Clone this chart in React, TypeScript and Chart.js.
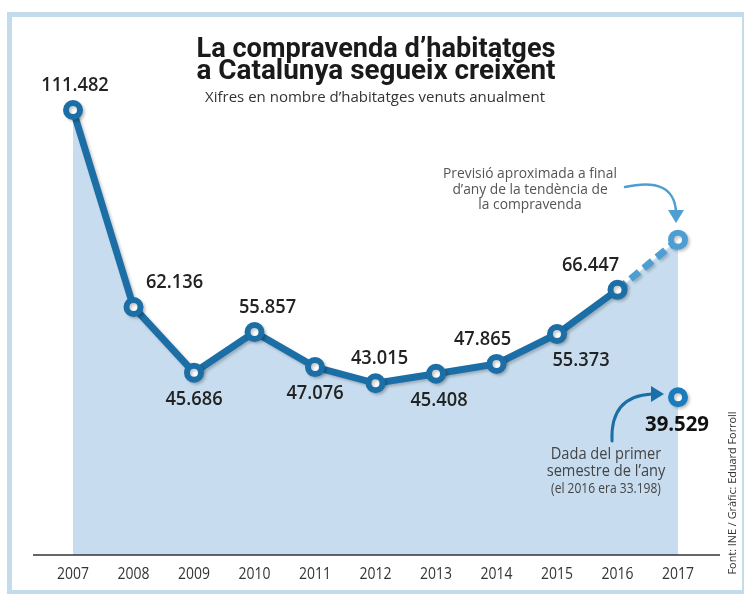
import React, { useEffect, useRef } from "react";
import { Chart, registerables } from "chart.js";

Chart.register(...registerables);

const years = ["2007", "2008", "2009", "2010", "2011", "2012", "2013", "2014", "2015", "2016", "2017"];
const sales = [111482, 62136, 45686, 55857, 47076, 43015, 45408, 47865, 55373, 66447, null];
const forecast = [null, null, null, null, null, null, null, null, null, 66447, 79000];
const firstSemester = [null, null, null, null, null, null, null, null, null, null, 39529];
// label placement for each value of `sales`: [dx, "above" | "below"]
const labelPlacement: [number, string][] = [
  [2, "above"], [41, "above"], [0, "below"], [13, "above"], [0, "below"], [4, "above"],
  [3, "below"], [-14, "above"], [24, "below"], [-27, "above"],
];

const titleLines = ["La compravenda d\u2019habitatges", "a Catalunya segueix creixent"];
const subtitle = "Xifres en nombre d\u2019habitatges venuts anualment";
const forecastNote = ["Previsió aproximada a final", "d\u2019any de la tendència de", "la compravenda"];
const semesterNote = ["Dada del primer", "semestre de l\u2019any", "(el 2016 era 33.198)"];
const sourceText = "Font: INE / Gràfic: Eduard Forroll";

const DARK = "#1b6ea6";
const LIGHT = "#4d9fd3";
const FILL = "#c7ddef";
const FRAME = "#c3dcec";

const fmt = (n: number) => String(n).replace(/\B(?=(\d{3})+(?!\d))/g, ".");

function txt(
  ctx: CanvasRenderingContext2D,
  s: string,
  x: number,
  y: number,
  font: string,
  color: string,
  opts: { align?: CanvasTextAlign; sx?: number; w?: number } = {}
) {
  ctx.save();
  ctx.font = font;
  ctx.fillStyle = color;
  ctx.textBaseline = "alphabetic";
  ctx.textAlign = opts.align || "center";
  let sc = opts.sx ?? 1;
  if (opts.w) sc = opts.w / ctx.measureText(s).width;
  ctx.translate(x, y);
  ctx.scale(sc, 1);
  ctx.fillText(s, 0, 0);
  ctx.restore();
}

const decorPlugin = {
  id: "decor",
  beforeDraw(chart: any) {
    const ctx = chart.ctx as CanvasRenderingContext2D;
    ctx.save();
    ctx.fillStyle = "#ffffff";
    ctx.fillRect(0, 0, chart.width, chart.height);
    ctx.fillStyle = FRAME;
    ctx.fillRect(7, 12, 737, 5); // top
    ctx.fillRect(7, 12, 5, 582); // left
    ctx.fillRect(742, 12, 2, 582); // right
    ctx.fillRect(7, 590, 737, 4); // bottom
    ctx.restore();
  },
  beforeDatasetDraw(chart: any, args: any) {
    const ctx = chart.ctx as CanvasRenderingContext2D;
    if (args.index === 1 || args.index === 2 || args.index === 3) {
      ctx.save();
      ctx.shadowColor = "rgba(0,0,0,0.22)";
      ctx.shadowBlur = 3;
      ctx.shadowOffsetX = 2;
      ctx.shadowOffsetY = 2;
    }
  },
  afterDatasetDraw(chart: any, args: any) {
    if (args.index === 1 || args.index === 2 || args.index === 3) {
      chart.ctx.restore();
    }
  },
  afterDraw(chart: any) {
    const ctx = chart.ctx as CanvasRenderingContext2D;
    const xs = chart.scales.x;
    const ys = chart.scales.y;
    const base = ys.getPixelForValue(0);

    // axis line
    ctx.save();
    ctx.strokeStyle = "#333";
    ctx.lineWidth = 1.5;
    ctx.beginPath();
    ctx.moveTo(33, base);
    ctx.lineTo(720, base);
    ctx.stroke();
    ctx.restore();

    // x labels
    years.forEach((y, i) => {
      txt(ctx, y, xs.getPixelForValue(i), base + 24, '17px "Open Sans"', "#333", { sx: 0.82 });
    });

    // titles
    txt(ctx, titleLines[0], 376, 57, 'bold 27px Roboto', "#1a1a1a", { w: 359 });
    txt(ctx, titleLines[1], 376, 79, 'bold 27px Roboto', "#1a1a1a", { w: 359 });
    txt(ctx, subtitle, 375, 102, '14px "Open Sans"', "#333", { w: 340 });

    // value labels
    labelPlacement.forEach(([dx, pos], i) => {
      const v = sales[i] as number;
      const px = xs.getPixelForValue(i) + dx;
      const py = ys.getPixelForValue(v);
      const by = pos === "above" ? py - 19 : py + 32;
      txt(ctx, fmt(v), px, by, '600 19px "Open Sans"', "#222", { sx: 0.96 });
    });
    const sv = firstSemester[10] as number;
    txt(ctx, fmt(sv), xs.getPixelForValue(10) - 1, ys.getPixelForValue(sv) + 34, 'bold 21px "Open Sans"', "#111", { sx: 0.97 });

    // forecast note
    forecastNote.forEach((l, i) => {
      txt(ctx, l, 530, 178 + i * 15.5, '15px "Open Sans"', "#555", { sx: 0.92 });
    });
    // semester note
    txt(ctx, semesterNote[0], 606, 459, '17px "Open Sans"', "#444", { sx: 0.86 });
    txt(ctx, semesterNote[1], 606, 476, '17px "Open Sans"', "#444", { sx: 0.86 });
    txt(ctx, semesterNote[2], 606, 493, '14px "Open Sans"', "#444", { sx: 0.86 });

    // arrows
    ctx.save();
    ctx.lineCap = "round";
    ctx.strokeStyle = LIGHT;
    ctx.fillStyle = LIGHT;
    ctx.lineWidth = 2.5;
    ctx.beginPath();
    ctx.moveTo(625, 187);
    ctx.quadraticCurveTo(674, 176, 676, 212);
    ctx.stroke();
    ctx.beginPath();
    ctx.moveTo(668, 210);
    ctx.lineTo(684, 210);
    ctx.lineTo(676, 223);
    ctx.closePath();
    ctx.fill();

    ctx.strokeStyle = DARK;
    ctx.fillStyle = DARK;
    ctx.lineWidth = 3;
    ctx.beginPath();
    ctx.moveTo(612, 441);
    ctx.quadraticCurveTo(610, 396, 652, 394);
    ctx.stroke();
    ctx.beginPath();
    ctx.moveTo(651, 386);
    ctx.lineTo(651, 402);
    ctx.lineTo(664, 394);
    ctx.closePath();
    ctx.fill();
    ctx.restore();

    // source (vertical)
    ctx.save();
    ctx.translate(736, 493);
    ctx.rotate(-Math.PI / 2);
    txt(ctx, sourceText, 0, 0, '11px "Open Sans"', "#333", { w: 163 });
    ctx.restore();
  },
};

export default function App() {
  const ref = useRef<HTMLCanvasElement>(null);
  useEffect(() => {
    if (!ref.current) return;
    const fillData = sales.map((v, i) => (v === null ? forecast[i] : v));
    const chart = new Chart(ref.current, {
      type: "line",
      data: {
        labels: years,
        datasets: [
          {
            data: fillData,
            borderWidth: 0,
            borderColor: "rgba(0,0,0,0)",
            backgroundColor: FILL,
            fill: "origin",
            pointRadius: 0,
            order: 4,
          },
          {
            data: forecast,
            borderColor: LIGHT,
            borderWidth: 7,
            borderDash: [11, 6],
            pointRadius: (c: any) => (c.dataIndex === 10 ? 7 : 0),
            pointBorderWidth: 6,
            pointBorderColor: LIGHT,
            pointBackgroundColor: "#ffffff",
            fill: false,
            order: 3,
          },
          {
            data: sales,
            borderColor: DARK,
            borderWidth: 7,
            pointRadius: 7,
            pointBorderWidth: 6,
            pointBorderColor: DARK,
            pointBackgroundColor: "#ffffff",
            fill: false,
            order: 2,
          },
          {
            data: firstSemester,
            showLine: false,
            pointRadius: 7,
            pointBorderWidth: 6,
            pointBorderColor: "#1a7bbd",
            pointBackgroundColor: "#ffffff",
            fill: false,
            order: 1,
          },
        ],
      } as any,
      options: {
        responsive: false,
        animation: false,
        layout: { padding: { left: 42.75, right: 37.75, top: 76, bottom: 39 } },
        plugins: { legend: { display: false }, tooltip: { enabled: false } },
        scales: {
          x: { display: false, offset: true },
          y: { display: false, min: 0, max: 120000 },
        },
      },
      plugins: [decorPlugin],
    });
    return () => chart.destroy();
  }, []);
  return (
    <div style={{ position: "absolute", left: 0, top: 0, width: 746, height: 594 }}>
      <canvas ref={ref} width={746} height={594} style={{ display: "block" }} />
    </div>
  );
}
